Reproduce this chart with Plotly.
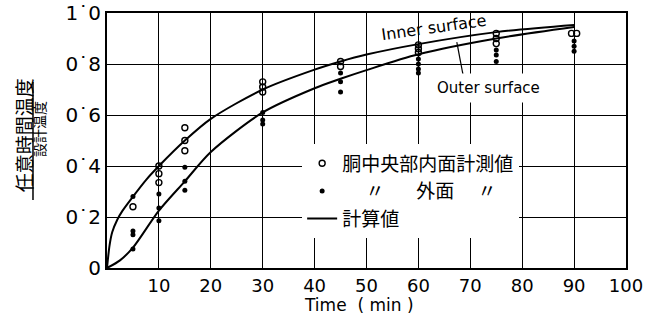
import plotly.graph_objects as go

# ---------------- data ----------------
inner_meas_x = [5, 10, 10, 10, 15, 15, 15, 30, 30, 30, 45, 45, 60, 60, 60, 75, 75, 75, 89.5, 90.5]
inner_meas_y = [0.24, 0.40, 0.37, 0.335, 0.55, 0.50, 0.46, 0.73, 0.71, 0.69, 0.81, 0.79,
                0.875, 0.86, 0.845, 0.92, 0.90, 0.88, 0.92, 0.92]

outer_meas_x = [5, 5, 5, 5, 10, 10, 10, 15, 15, 15, 30, 30, 30, 45, 45, 45,
                60, 60, 60, 60, 75, 75, 75, 90, 90, 90]
outer_meas_y = [0.28, 0.145, 0.13, 0.075, 0.29, 0.235, 0.185, 0.395, 0.34, 0.305,
                0.61, 0.58, 0.565, 0.765, 0.73, 0.69,
                0.82, 0.80, 0.78, 0.765, 0.855, 0.835, 0.81, 0.89, 0.87, 0.85]

inner_calc_x = [0, 0.5, 1, 2, 3, 5, 7.5, 10, 15, 20, 30, 40, 45, 50, 60, 75, 90]
inner_calc_y = [0, 0.09, 0.14, 0.19, 0.225, 0.28, 0.345, 0.40, 0.50, 0.585, 0.70,
                0.778, 0.81, 0.837, 0.878, 0.925, 0.953]

outer_calc_x = [0, 2.5, 5, 10, 15, 20, 30, 40, 45, 50, 60, 75, 90]
outer_calc_y = [0, 0.03, 0.08, 0.225, 0.34, 0.455, 0.61, 0.705, 0.742, 0.776, 0.838, 0.90, 0.945]

x_ticks = [10, 20, 30, 40, 50, 60, 70, 80, 90, 100]
x_ticklabels = [str(v) for v in x_ticks]
y_ticks = [0, 0.2, 0.4, 0.6, 0.8, 1.0]
y_ticklabels = ["0", "0˙2", "0˙4", "0˙6", "0˙8", "1˙0"]

NB = "\u00a0"
leg_inner = "胴中央部内面計測値"
leg_outer = "　" + NB + "〃　" + NB * 3 + "外面　" + NB + "〃"
leg_calc = "計算値"

# ---------------- figure ----------------
fig = go.Figure()

fig.add_trace(go.Scatter(
    x=inner_calc_x, y=inner_calc_y, mode="lines", name=leg_calc,
    line=dict(color="black", width=2, shape="spline", smoothing=0.8),
    showlegend=True, legendrank=3))
fig.add_trace(go.Scatter(
    x=outer_calc_x, y=outer_calc_y, mode="lines", name=leg_calc,
    line=dict(color="black", width=2, shape="spline", smoothing=0.8),
    showlegend=False))
fig.add_trace(go.Scatter(
    x=inner_meas_x, y=inner_meas_y, mode="markers", name=leg_inner,
    marker=dict(symbol="circle-open", size=6, color="black", line=dict(width=1.4, color="black")),
    legendrank=1))
fig.add_trace(go.Scatter(
    x=outer_meas_x, y=outer_meas_y, mode="markers", name=leg_outer,
    marker=dict(symbol="circle", size=5, color="black"),
    legendrank=2))

axis_common = dict(showline=True, linecolor="black", linewidth=2, mirror=True,
                   showgrid=True, gridcolor="black", gridwidth=1.2,
                   zeroline=False, ticks="", automargin=False,
                   tickfont=dict(family="DejaVu Sans", size=18, color="black"))

fig.update_xaxes(range=[0, 100], tickmode="array", tickvals=x_ticks, ticktext=x_ticklabels,
                 **axis_common)
fig.update_yaxes(range=[0, 1.0], tickmode="array", tickvals=y_ticks, ticktext=y_ticklabels,
                 **axis_common)
fig.update_yaxes(tickfont=dict(family="DejaVu Sans", size=20, color="black"))

cjk = "Noto Sans CJK JP"

fig.update_layout(
    width=659, height=320,
    margin=dict(l=107, r=33, t=13, b=52, autoexpand=False),
    paper_bgcolor="white", plot_bgcolor="white",
    showlegend=True,
    legend=dict(x=0.376, y=0.485, xanchor="left", yanchor="top",
                bgcolor="white", borderwidth=0,
                font=dict(family=cjk, size=19, color="black"),
                tracegroupgap=0, itemwidth=30),
    annotations=[
        dict(text="Inner surface", x=63.0, y=0.945, xref="x", yref="y",
             showarrow=False, textangle=-8,
             font=dict(family="DejaVu Sans", size=16, color="black")),
        dict(text="Outer surface", x=73.6, y=0.706, xref="x", yref="y",
             showarrow=False, bgcolor="white", borderpad=5,
             font=dict(family="DejaVu Sans", size=15, color="black")),
        dict(text="Time  ( min )", x=0.486, y=-0.145, xref="paper", yref="paper",
             showarrow=False, xanchor="center", yanchor="middle",
             font=dict(family="DejaVu Sans", size=17, color="black")),
        dict(text="任意時間温度", x=-0.162, y=0.52, xref="paper", yref="paper",
             showarrow=False, textangle=-90, xanchor="center", yanchor="middle",
             font=dict(family=cjk, size=19, color="black")),
        dict(text="設計温度", x=-0.131, y=0.545, xref="paper", yref="paper",
             showarrow=False, textangle=-90, xanchor="center", yanchor="middle",
             font=dict(family=cjk, size=14, color="black")),
    ],
    shapes=[
        dict(type="line", xref="x", yref="y", x0=67.4, y0=0.886, x1=68.6, y1=0.757,
             line=dict(color="black", width=1.2)),
        dict(type="line", xref="paper", yref="paper", x0=-0.1426, x1=-0.1426, y0=0.267, y1=0.729,
             line=dict(color="black", width=1.5)),
    ],
)

fig.write_html("out.html", config={"displayModeBar": False},
               post_script="document.body.style.margin='0';")
